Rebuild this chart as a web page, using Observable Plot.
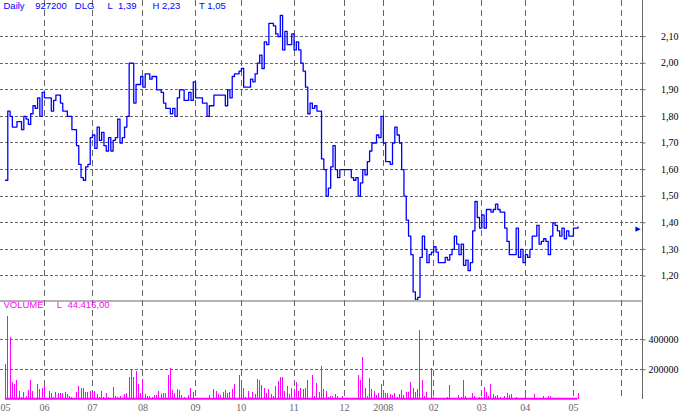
<!DOCTYPE html>
<html>
<head>
<meta charset="utf-8">
<script src="https://cdn.jsdelivr.net/npm/d3@7"></script>
<script src="https://cdn.jsdelivr.net/npm/@observablehq/plot@0.6"></script>
<style>
html, body { margin: 0; padding: 0; background: #ffffff; }
#chart { position: relative; width: 682px; height: 417px; overflow: hidden; background: #ffffff; }
#chart svg { position: absolute; left: 0; display: block; }
</style>
</head>
<body>
<div id="chart"></div>
<script>
// ---------- DATA ----------
// Trading-day index where the daily close changes, and the close from that day on
const priceDay = [
  0,1,2,3,5,7,8,9,10,11,
  12,13,14,15,16,17,20,21,22,24,
  25,27,29,31,32,33,34,35,36,37,
  38,39,40,41,42,43,44,45,46,47,
  48,49,50,51,52,53,54,56,57,59,
  60,61,63,64,66,68,69,70,72,73,
  74,75,76,78,80,81,82,83,86,88,
  89,91,96,97,98,99,100,102,103,104,
  107,108,109,110,111,112,113,114,115,117,
  118,119,120,121,122,123,125,126,127,128,
  129,130,131,132,133,134,135,136,138,139,
  140,141,142,143,144,145,146,151,152,153,
  154,155,156,157,158,159,160,162,163,164,
  165,166,168,169,170,171,172,173,174,175,
  176,177,178,179,180,181,182,183,184,185,
  186,187,188,189,192,193,194,195,196,197,
  198,199,200,201,202,203,204,205,206,207,
  208,209,210,212,213,214,215,216,218,219,
  220,223,224,225,226,227,228,229,230,232,
  233,234,235,236,237,238,239,240,241,242,
  243,244,245,246,248,250
];
const price = [
  1.56,1.82,1.80,1.76,1.78,1.75,1.80,1.79,1.77,1.81,
  1.84,1.83,1.87,1.80,1.89,1.87,1.82,1.86,1.88,1.85,
  1.82,1.80,1.75,1.69,1.62,1.57,1.56,1.61,1.62,1.72,
  1.73,1.68,1.76,1.71,1.74,1.69,1.67,1.72,1.67,1.71,
  1.72,1.79,1.70,1.72,1.76,1.80,2.00,1.85,1.92,1.95,
  1.91,1.96,1.94,1.95,1.90,1.89,1.85,1.83,1.81,1.83,
  1.80,1.87,1.90,1.86,1.89,1.86,1.93,1.87,1.85,1.80,
  1.84,1.88,1.84,1.90,1.87,1.95,1.96,1.97,1.98,1.91,
  1.94,1.93,1.96,2.00,2.03,1.98,2.08,2.07,2.15,2.14,
  2.11,2.10,2.18,2.05,2.12,2.07,2.11,2.05,2.08,2.05,
  2.00,1.97,1.91,1.81,1.85,1.83,1.84,1.82,1.64,1.60,
  1.50,1.53,1.61,1.69,1.60,1.57,1.60,1.57,1.56,1.57,
  1.50,1.55,1.60,1.58,1.63,1.67,1.70,1.73,1.72,1.80,
  1.70,1.63,1.62,1.70,1.76,1.73,1.70,1.60,1.50,1.41,
  1.35,1.28,1.14,1.11,1.12,1.27,1.35,1.30,1.25,1.28,
  1.29,1.31,1.29,1.25,1.27,1.26,1.28,1.30,1.35,1.32,
  1.28,1.32,1.24,1.26,1.22,1.25,1.37,1.48,1.42,1.38,
  1.43,1.38,1.45,1.44,1.45,1.47,1.45,1.44,1.38,1.33,
  1.28,1.38,1.27,1.30,1.25,1.28,1.27,1.30,1.35,1.39,
  1.32,1.33,1.34,1.33,1.28,1.35,1.40,1.39,1.37,1.35,
  1.38,1.34,1.37,1.35,1.38,1.385
];

// Daily volume (thousands of shares) on days with a visible bar
const volDay = [
  0,1,2,3,4,5,6,7,8,9,
  10,11,12,13,14,15,16,17,18,19,
  20,21,22,23,24,25,26,27,28,29,
  31,32,33,34,35,36,37,38,39,40,
  41,42,43,44,45,47,48,49,50,52,
  53,54,55,56,57,58,59,60,61,62,
  63,64,65,66,67,68,69,70,71,72,
  73,74,75,76,77,78,80,81,82,83,
  84,85,89,90,91,92,93,94,95,96,
  97,98,99,100,102,103,104,105,106,107,
  108,109,110,111,112,113,114,115,116,117,
  118,119,120,121,122,123,124,125,126,127,
  128,129,130,131,132,134,135,136,137,138,
  139,140,141,142,143,144,145,146,147,148,
  151,154,155,156,157,158,159,160,161,162,
  163,164,165,166,167,168,169,170,171,172,
  173,174,175,176,177,178,179,180,181,182,
  183,184,186,187,189,191,193,194,198,199,
  200,201,204,205,207,208,209,210,211,212,
  213,214,215,216,218,219,220,221,223,226,
  227,231,233,235,236,237,238,245,247,250
];
const volThousands = [
  235,555,413,115,102,129,57,13,47,22,
  62,129,57,8,100,69,75,89,8,55,
  40,13,49,40,40,40,49,33,22,15,
  49,89,75,75,49,49,57,49,57,35,
  18,57,18,44,13,84,22,18,22,33,
  42,147,195,147,187,102,44,133,35,22,
  22,18,27,27,55,33,44,40,164,209,
  62,40,67,62,27,13,27,75,49,8,
  8,8,27,10,69,55,35,27,46,62,
  42,46,69,102,160,107,75,18,55,18,
  49,35,133,129,93,75,40,69,35,22,
  89,124,147,147,55,89,35,75,71,115,
  57,75,71,75,129,162,22,111,49,222,
  67,55,18,22,22,35,22,10,22,10,
  10,162,129,282,75,22,142,69,55,27,
  40,102,55,40,40,33,27,40,18,33,
  62,27,49,49,113,75,49,69,462,129,
  22,51,209,18,10,8,14,94,27,13,
  129,22,40,22,18,13,80,49,22,102,
  35,22,27,13,22,40,27,33,18,10,
  33,33,10,22,10,22,22,10,10,42
];

// Month boundaries (trading-day index) and their labels
const monthTicks  = [0, 17, 38, 60, 83, 103, 126, 148, 165, 187, 208, 227, 248, 269];
const monthLabels = ["05","06","07","08","09","10","11","12","2008","02","03","04","05",""];

const priceTicks = [1.2, 1.3, 1.4, 1.5, 1.6, 1.7, 1.8, 1.9, 2.0, 2.1];
const volTicks = [200, 400];   // thousands
const volTickLabels = ["200000", "400000"];

const headerTokens = ["Daily", "927200", "DLG", "L", "1,39", "H", "2,23", "T", "1,05"];
const volHeaderTokens = ["VOLUME", "L", "44.416,00"];

// ---------- LAYOUT ----------
const BLUE = "#0000ff", MAGENTA = "#ff00ff", GRID = "#666666";
const PX_PER_DAY = 2.29;
const xMin = -5 / PX_PER_DAY;
const xMax = 636.5 / PX_PER_DAY;
const priceDomain = [1.10789, 2.23571];
const volMax = 662;

const nb = n => "\u00a0".repeat(n);
const headerText = headerTokens[0] + nb(4) + headerTokens[1] + nb(3) + headerTokens[2] + nb(5) +
  headerTokens[3] + nb(2) + headerTokens[4] + nb(6) + headerTokens[5] + nb(1) + headerTokens[6] + nb(7) +
  headerTokens[7] + nb(1) + headerTokens[8];
const volHeaderText = volHeaderTokens[0] + nb(5) + volHeaderTokens[1] + nb(2) + volHeaderTokens[2];

const fmtPrice = d => d.toFixed(2).replace(".", ",");

const priceData = priceDay.map((d, i) => ({day: d, price: price[i]}));
const volData = volDay.map((d, i) => ({day: d, vol: volThousands[i]}));
const lastPrice = price[price.length - 1];
const firstDay = priceDay[0], lastDay = priceDay[priceDay.length - 1];

const axisStyle = {background: "transparent", fontFamily: "Liberation Serif", fontSize: "10px", color: GRID};

const pricePlot = Plot.plot({
  width: 682, height: 300,
  marginLeft: 0, marginRight: 40.5, marginTop: 0, marginBottom: 0,
  x: {domain: [xMin, xMax], axis: null},
  y: {domain: priceDomain, axis: "right", ticks: priceTicks, tickSize: 3, tickFormat: () => "", label: null},
  style: axisStyle,
  marks: [
    Plot.ruleY(priceTicks, {stroke: GRID, strokeDasharray: "3,2", shapeRendering: "crispEdges"}),
    Plot.ruleX(monthTicks.slice(1), {stroke: GRID, strokeDasharray: "6,4", shapeRendering: "crispEdges"}),
    Plot.ruleX([xMax], {stroke: GRID, shapeRendering: "crispEdges"}),
    Plot.line(priceData, {x: "day", y: "price", curve: "step-after", stroke: BLUE, strokeWidth: 1.3}),
    Plot.text(priceTicks, {y: d => d, text: d => fmtPrice(d), frameAnchor: "right", textAnchor: "end", dx: 36.5,
      fill: "#000", fontFamily: "Liberation Serif", fontSize: 10}),
    Plot.text([headerText], {text: d => d, frameAnchor: "top-left", lineAnchor: "top", textAnchor: "start", dx: 3, dy: 1.5,
      fill: BLUE, fontFamily: "Liberation Sans", fontSize: 9.5}),
    Plot.text([lastPrice], {y: d => d, text: () => "\u25B6", frameAnchor: "right", textAnchor: "middle", dx: -4, dy: 1.5,
      fill: BLUE, fontFamily: "DejaVu Sans", fontSize: 7})
  ]
});

const volPlot = Plot.plot({
  width: 682, height: 117,
  marginLeft: 0, marginRight: 40.5, marginTop: 0, marginBottom: 17.7,
  x: {domain: [xMin, xMax], ticks: monthTicks, tickFormat: d => monthLabels[monthTicks.indexOf(d)],
      tickSize: 0, tickPadding: 4.5, label: null},
  y: {domain: [0, volMax], axis: "right", ticks: volTicks, tickSize: 3, tickFormat: () => "", label: null},
  style: axisStyle,
  marks: [
    Plot.ruleY(volTicks, {stroke: GRID, strokeDasharray: "3,2", shapeRendering: "crispEdges"}),
    Plot.ruleX(monthTicks.slice(1), {stroke: GRID, strokeDasharray: "6,4", shapeRendering: "crispEdges"}),
    Plot.ruleX([xMax], {stroke: GRID, shapeRendering: "crispEdges"}),
    Plot.ruleY([volMax], {stroke: GRID, dy: 0.5}),
    Plot.ruleX(volData, {x: "day", y1: 0, y2: "vol", stroke: MAGENTA, shapeRendering: "crispEdges"}),
    Plot.ruleY([0], {x1: firstDay, x2: lastDay, stroke: MAGENTA, strokeWidth: 2, dy: -1}),
    Plot.text(volTicks, {y: d => d, text: d => volTickLabels[volTicks.indexOf(d)], frameAnchor: "right", textAnchor: "end", dx: 36.5,
      fill: "#000", fontFamily: "Liberation Serif", fontSize: 10}),
    Plot.text([volHeaderText], {text: d => d, frameAnchor: "top-left", lineAnchor: "top", textAnchor: "start", dx: 3, dy: 1,
      fill: MAGENTA, fontFamily: "Liberation Sans", fontSize: 9.5})
  ]
});

pricePlot.style.top = "0px";
volPlot.style.top = "300px";
const chart = document.getElementById("chart");
chart.appendChild(pricePlot);
chart.appendChild(volPlot);
</script>
</body>
</html>
